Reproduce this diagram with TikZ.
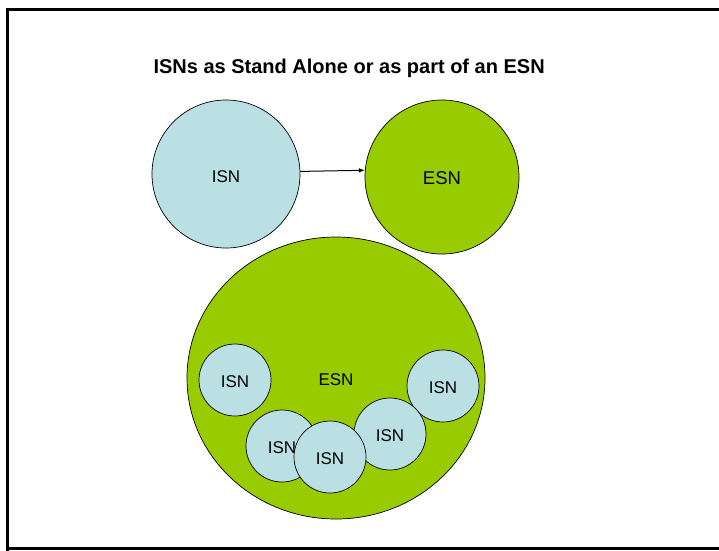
\documentclass[tikz,border=0pt]{standalone}
\usepackage{fontspec}
\setmainfont{Liberation Sans}
\usetikzlibrary{shapes.geometric,arrows.meta}
\definecolor{isnblue}{RGB}{187,224,227}
\definecolor{esngreen}{RGB}{153,204,0}
\tikzset{
  isnc/.style={circle,draw=black,line width=0.7pt,fill=isnblue,inner sep=0pt,font=\fontsize{17}{20}\selectfont,text height=14.2pt,text depth=0pt},
  esnc/.style={circle,draw=black,line width=0.7pt,fill=esngreen,inner sep=0pt},
  link/.style={line width=1pt,-{Latex[length=6pt,width=4.5pt]}}
}
\begin{document}
\begin{tikzpicture}[x=1pt,y=-1pt]
\useasboundingbox (0,0) rectangle (719,550);
\fill[white] (0,0) rectangle (719,550);
\draw[line width=2.5pt] (7.5,730) -- (7.5,9.5) -- (730,9.5);
\draw[line width=2.5pt] (7.5,548.5) -- (730,548.5);
\node[anchor=west,font=\fontsize{20}{24}\selectfont\bfseries] (title) at (150,68) {ISNs as Stand Alone or as part of an ESN};
\node[isnc,minimum size=148pt,text height=17.2pt] (isn) at (226,174) {ISN};
\node[esnc,minimum size=154pt,font=\fontsize{18.5}{22}\selectfont,text height=15.2pt,text depth=0pt] (esn) at (442,177) {ESN};
\draw[link] (isn.2.3) -- (esn.175.5);
\node[ellipse,draw=black,line width=0.7pt,fill=esngreen,inner sep=0pt,minimum width=298pt,minimum height=282pt,font=\fontsize{17}{20}\selectfont,text height=14.2pt,text depth=0pt] (big) at (336,378) {ESN};
\node[isnc,minimum size=72pt] (i1) at (235,380) {ISN};
\node[isnc,minimum size=72pt] (i2) at (443,386) {ISN};
\node[isnc,minimum size=72pt] (i3) at (282,446) {ISN};
\node[isnc,minimum size=72pt] (i4) at (390,434) {ISN};
\node[isnc,minimum size=72pt] (i5) at (330,457) {ISN};
\end{tikzpicture}
\end{document}
